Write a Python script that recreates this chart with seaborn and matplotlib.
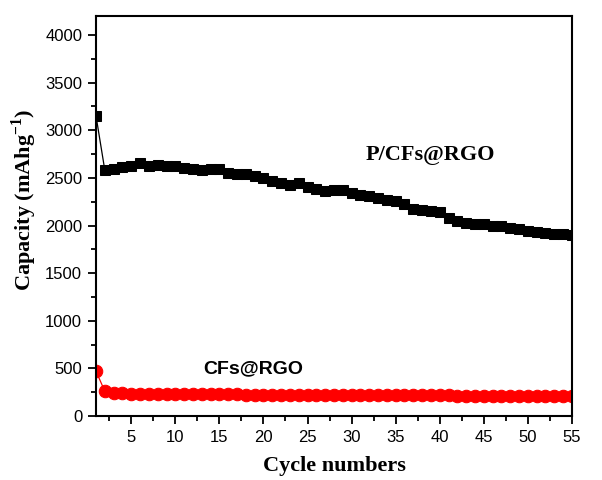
import numpy as np
import pandas as pd
import seaborn as sns
import matplotlib.pyplot as plt
from matplotlib.ticker import MultipleLocator

# cycle numbers
cycles = list(range(1, 56))

# P/CFs@RGO capacity (mAh/g)
p_cfs_rgo = [3150, 2580, 2590, 2610, 2620, 2660, 2630, 2640, 2620, 2620,
             2600, 2590, 2580, 2590, 2590, 2550, 2540, 2540, 2520, 2500,
             2470, 2450, 2430, 2450, 2400, 2380, 2360, 2370, 2370, 2340,
             2320, 2310, 2290, 2270, 2260, 2230, 2170, 2160, 2150, 2140,
             2080, 2050, 2030, 2020, 2020, 2000, 1990, 1970, 1960, 1940,
             1930, 1920, 1910, 1910, 1900]

# CFs@RGO capacity (mAh/g)
cfs_rgo = [470, 260, 240, 238, 236, 234, 232, 232, 230, 230,
           230, 229, 228, 228, 227, 226, 226, 225, 225, 224,
           224, 223, 223, 222, 222, 222, 221, 221, 220, 220,
           220, 219, 219, 218, 218, 218, 217, 217, 216, 216,
           216, 215, 215, 215, 214, 214, 214, 213, 213, 213,
           212, 212, 212, 211, 211]

df = pd.DataFrame({'cycle': cycles, 'P/CFs@RGO': p_cfs_rgo, 'CFs@RGO': cfs_rgo})

sns.set_style('ticks')
plt.rcParams['font.family'] = ['Liberation Sans', 'DejaVu Sans']
plt.rcParams['text.color'] = 'black'
plt.rcParams['axes.labelcolor'] = 'black'
plt.rcParams['xtick.color'] = 'black'
plt.rcParams['ytick.color'] = 'black'
plt.rcParams['mathtext.fontset'] = 'custom'
plt.rcParams['mathtext.rm'] = 'Liberation Serif:bold'
plt.rcParams['mathtext.bf'] = 'Liberation Serif:bold'

fig = plt.figure(figsize=(6.02, 4.8), dpi=100)
ax = fig.add_axes([0.1595, 0.1333, 0.7905, 0.8334])

sns.lineplot(data=df, x='cycle', y='P/CFs@RGO', ax=ax, color='black',
             marker='s', markersize=7.5, markeredgecolor='black', linewidth=0.9)
sns.lineplot(data=df, x='cycle', y='CFs@RGO', ax=ax, color='#ff0000',
             marker='o', markersize=9, markeredgecolor='#ff0000', linewidth=0.9)

ax.set_xlim(1, 55)
ax.set_ylim(0, 4200)
ax.xaxis.set_major_locator(MultipleLocator(5))
ax.xaxis.set_minor_locator(MultipleLocator(2.5))
ax.yaxis.set_major_locator(MultipleLocator(500))
ax.yaxis.set_minor_locator(MultipleLocator(250))
ax.set_xticks([5, 10, 15, 20, 25, 30, 35, 40, 45, 50, 55])
ax.tick_params(which='major', direction='out', length=6, width=1.3, labelsize=12, pad=4)
ax.tick_params(which='minor', direction='out', length=3.5, width=1.3)
for s in ax.spines.values():
    s.set_linewidth(1.5)
    s.set_color('black')

ax.set_xlabel('Cycle numbers', family='Liberation Serif', fontweight='bold', fontsize=16, labelpad=8)
ax.set_ylabel('Capacity (mAhg$^{\\mathrm{-1}}$)', family='Liberation Serif', fontweight='bold', fontsize=16, labelpad=4)
ax.yaxis.set_label_coords(-0.12, 0.54)

ax.text(31.6, 2740, 'P/CFs@RGO', family='Liberation Serif', fontweight='bold', fontsize=16, va='center')
ax.text(13.2, 500, 'CFs@RGO', fontweight='bold', fontsize=14, va='center')

fig.savefig('out.png', dpi=100)
